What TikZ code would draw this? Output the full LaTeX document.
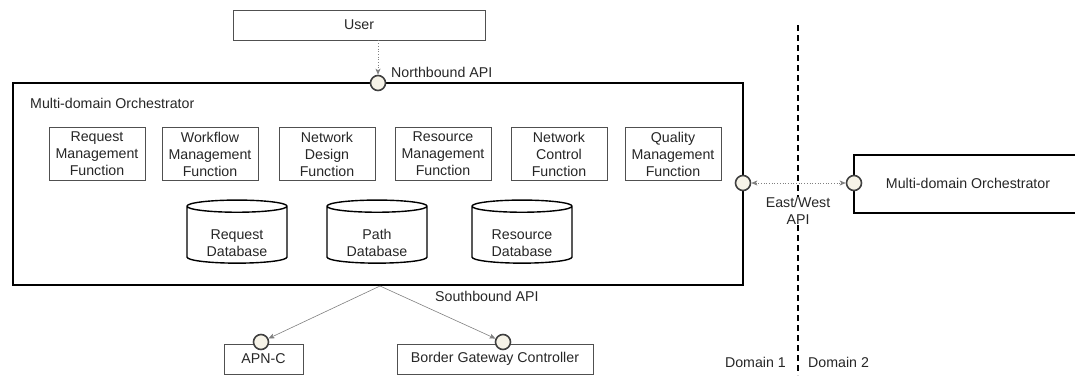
\documentclass[tikz,border=0pt]{standalone}
\usepackage{fontspec}
\setmainfont{Liberation Sans}
\usetikzlibrary{shapes.geometric,arrows.meta}
\definecolor{thin}{HTML}{505050}
\definecolor{conn}{HTML}{808080}
\definecolor{port}{HTML}{F6F3E8}
\tikzset{
  every node/.style={font=\fontsize{14.2}{17}\selectfont, text=black!85},
  funcbox/.style={draw=thin, line width=0.8pt, minimum width=96pt, minimum height=53pt, align=center, inner sep=1pt},
  smallbox/.style={draw=thin, line width=0.8pt, minimum height=30pt, align=center},
  bigbox/.style={draw=black, line width=2pt},
  dbase/.style={cylinder, shape border rotate=90, aspect=0.2, draw=black, line width=1.4pt, minimum width=100pt, minimum height=63pt, align=center, inner sep=0pt},
  apiport/.style={circle, draw=black!75, fill=port, line width=1.6pt, minimum size=15pt, inner sep=0pt},
  conline/.style={draw=conn, line width=0.6pt},
  dotline/.style={draw=conn, line width=0.7pt, dotted},
  tip/.style={-{Stealth[length=6pt,width=5pt,inset=1.5pt]}},
  lbl/.style={inner sep=1pt, align=center}
}
\begin{document}
\begin{tikzpicture}[x=1pt,y=-1pt]
\useasboundingbox (0,0) rectangle (1075,375);
% user
\node[smallbox, minimum width=252pt] (user) at (359,25) {User};
% main orchestrator
\node[bigbox, minimum width=730pt, minimum height=202pt] (mdo) at (378,184) {};
\node[lbl, anchor=west] (mdolbl) at (29,103) {Multi-domain Orchestrator};
% functions
\node[funcbox] (f1) at (97,154) {Request\\Management\\Function};
\node[funcbox] (f2) at (210,154) {Workflow\\Management\\Function};
\node[funcbox] (f3) at (327,154) {Network\\Design\\Function};
\node[funcbox] (f4) at (443,154) {Resource\\Management\\Function};
\node[funcbox] (f5) at (559,154) {Network\\Control\\Function};
\node[funcbox] (f6) at (673,154) {Quality\\Management\\Function};
% databases
\node[dbase] (d1) at (237,235) {\\[10pt]Request\\Database};
\node[dbase] (d2) at (377,235) {\\[10pt]Path\\Database};
\node[dbase] (d3) at (522,235) {\\[10pt]Resource\\Database};
% northbound
\node[apiport] (nb) at (378,83) {};
\node[lbl, anchor=west] (nblbl) at (390,72) {Northbound API};
\draw[dotline, tip] (user.south -| nb) -- (nb.north);
% domain divider
\coordinate (dtop) at (798,25);
\coordinate (dbot) at (798,375);
\draw[black, line width=1.8pt, dash pattern=on 6pt off 4pt] (dtop) -- (dbot);
\node[lbl, fill=white, inner sep=0pt] (ewlbl) at (798,211) {East/West\\API};
\node[lbl, anchor=east] (dom1) at (787,362) {Domain 1};
\node[lbl, anchor=west] (dom2) at (807,362) {Domain 2};
% remote orchestrator
\coordinate (r1) at (854,155);
\coordinate (r2) at (1090,213);
\draw[bigbox] (r2 |- r1) -- (r1) -- (r1 |- r2) -- (r2);
\node[lbl] (mdo2lbl) at (968,183) {Multi-domain Orchestrator};
% east/west ports
\node[apiport] (ew1) at (743,183) {};
\node[apiport] (ew2) at (854,183) {};
\draw[dotline, {Stealth[length=6pt,width=5pt,inset=1.5pt]}-{Stealth[length=6pt,width=5pt,inset=1.5pt]}] (ew1) -- (ew2);
% southbound
\node[smallbox, minimum width=79pt] (apn) at (263.5,359) {APN-C};
\node[smallbox, minimum width=196pt] (bgc) at (495,359) {Border Gateway Controller};
\node[apiport] (sp1) at (261,342) {};
\node[apiport] (sp2) at (503,342) {};
\coordinate (sb) at (380,286);
\node[lbl, anchor=west] (sblbl) at (434,296) {Southbound API};
\draw[conline, tip] (sb) -- (sp1);
\draw[conline, tip] (sb) -- (sp2);
\end{tikzpicture}
\end{document}
